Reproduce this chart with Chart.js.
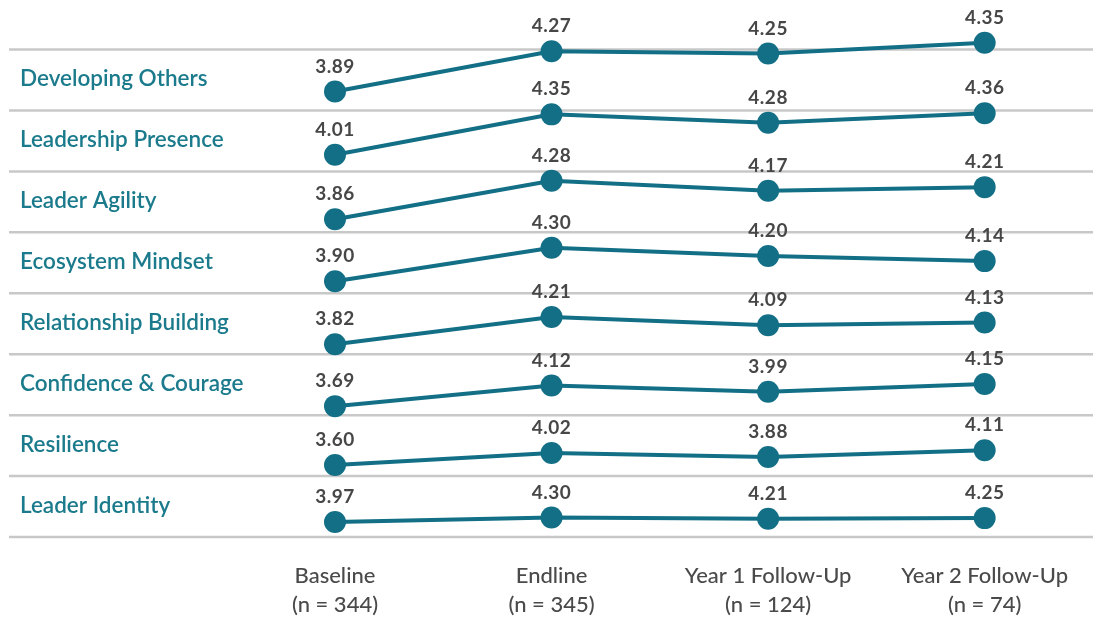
<!DOCTYPE html>
<html>
<head>
<meta charset="utf-8">
<script src="https://cdn.jsdelivr.net/npm/chart.js@4/dist/chart.umd.min.js"></script>
<style>
  html, body { margin: 0; padding: 0; background: #fff; }
  #wrap { width: 1093px; height: 617px; }
</style>
</head>
<body>
<div id="wrap"><canvas id="growthChart"></canvas></div>
<script>
// survey waves (x axis)
const waves = ['Baseline', 'Endline', 'Year 1 Follow-Up', 'Year 2 Follow-Up'];
const sampleSizes = ['(n = 344)', '(n = 345)', '(n = 124)', '(n = 74)'];

// competency rows, top to bottom
const competencies = [
    'Developing Others',
    'Leadership Presence',
    'Leader Agility',
    'Ecosystem Mindset',
    'Relationship Building',
    'Confidence & Courage',
    'Resilience',
    'Leader Identity'
];

const developingOthers = [3.89, 4.27, 4.25, 4.35];
const leadershipPresence = [4.01, 4.35, 4.28, 4.36];
const leaderAgility = [3.86, 4.28, 4.17, 4.21];
const ecosystemMindset = [3.90, 4.30, 4.20, 4.14];
const relationshipBuilding = [3.82, 4.21, 4.09, 4.13];
const confidenceCourage = [3.69, 4.12, 3.99, 4.15];
const resilience = [3.60, 4.02, 3.88, 4.11];
const leaderIdentity = [3.97, 4.30, 4.21, 4.25];

const rowValues = [developingOthers, leadershipPresence, leaderAgility, ecosystemMindset,
    relationshipBuilding, confidenceCourage, resilience, leaderIdentity];

// each row gets its own little y scale (the original squashes lower rows)
const rowMin = [3.712, 3.870, 3.717, 3.757, 3.677, 3.503, 3.221, 2.899];
const rowMax = [4.287, 4.383, 4.382, 4.483, 4.549, 4.773, 5.324, 7.256];

const TEAL = '#126f86';

const rowPlugin = {
    id: 'rows',
    beforeDatasetsDraw(chart) {
        const ctx = chart.ctx;
        ctx.save();
        ctx.strokeStyle = '#c8c8c8';
        ctx.lineWidth = 2.5;
        competencies.forEach((name, i) => {
            const s = chart.scales['r' + i];
            const ys = [s.top];
            if (i === competencies.length - 1) ys.push(s.bottom);
            ys.forEach(y => {
                ctx.beginPath();
                ctx.moveTo(9, y);
                ctx.lineTo(chart.width, y);
                ctx.stroke();
            });
        });
        // row names
        ctx.fillStyle = '#1b7b8c';
        ctx.font = '600 22.5px Lato';
        ctx.textAlign = 'left';
        ctx.textBaseline = 'middle';
        competencies.forEach((name, i) => {
            const s = chart.scales['r' + i];
            ctx.fillText(name, 20, (s.top + s.bottom) / 2 - 1);
        });
        ctx.restore();
    },
    afterDatasetsDraw(chart) {
        const ctx = chart.ctx;
        ctx.save();
        ctx.fillStyle = '#474747';
        ctx.font = 'bold 19px Lato';
        ctx.letterSpacing = '0.5px';
        ctx.textAlign = 'center';
        ctx.textBaseline = 'middle';
        chart.data.datasets.forEach((ds, i) => {
            chart.getDatasetMeta(i).data.forEach((pt, j) => {
                ctx.fillText(ds.data[j].toFixed(2), pt.x, pt.y - 25);
            });
        });
        ctx.restore();
    }
};

function createChart() {
    const scales = {
        x: {
            type: 'category',
            offset: false,
            grid: { display: false, drawTicks: false },
            border: { display: false },
            afterFit(scale) { scale.height = 80; },
            ticks: {
                color: '#4a4a4a',
                font: { family: 'Lato', size: 22, weight: '500', lineHeight: 1.3 },
                padding: 25,
                maxRotation: 0,
                autoSkip: false
            }
        }
    };
    competencies.forEach((name, i) => {
        scales['r' + i] = {
            type: 'linear',
            display: false,
            position: 'left',
            stack: 'rows',
            stackWeight: 1,
            weight: competencies.length - i,
            min: rowMin[i],
            max: rowMax[i]
        };
    });

    const ctx = document.getElementById('growthChart').getContext('2d');
    new Chart(ctx, {
        type: 'line',
        data: {
            labels: waves.map((w, i) => [w, sampleSizes[i]]),
            datasets: rowValues.map((vals, i) => ({
                label: competencies[i],
                data: vals,
                yAxisID: 'r' + i,
                borderColor: TEAL,
                backgroundColor: TEAL,
                borderWidth: 4,
                pointRadius: 11,
                pointHoverRadius: 11,
                pointBorderWidth: 0,
                tension: 0,
                clip: false
            }))
        },
        options: {
            responsive: false,
            animation: false,
            layout: { padding: { left: 335, right: 106, top: 49.5, bottom: 0 } },
            plugins: {
                legend: { display: false },
                tooltip: { enabled: false }
            },
            scales: scales
        },
        plugins: [rowPlugin]
    });
}

document.getElementById('growthChart').width = 1093;
document.getElementById('growthChart').height = 617;
document.addEventListener('DOMContentLoaded', () => createChart());
</script>
</body>
</html>
